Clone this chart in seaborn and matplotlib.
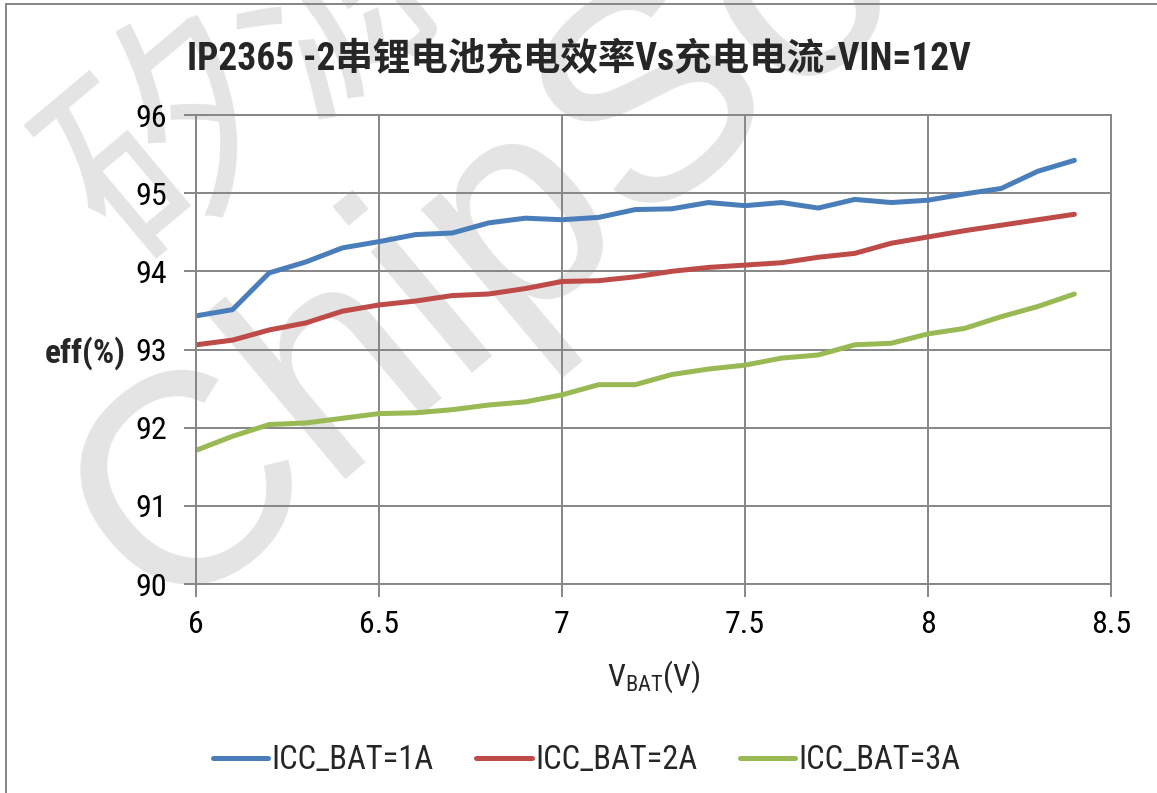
import matplotlib
matplotlib.use('Agg')
import matplotlib.pyplot as plt
import pandas as pd
import seaborn as sns
from matplotlib import font_manager
from matplotlib.patches import Rectangle

# Data
vbat = [6.0, 6.1, 6.2, 6.3, 6.4, 6.5, 6.6, 6.7, 6.8, 6.9, 7.0, 7.1, 7.2,
        7.3, 7.4, 7.5, 7.6, 7.7, 7.8, 7.9, 8.0, 8.1, 8.2, 8.3, 8.4]
eff_1a = [93.43, 93.51, 93.98, 94.12, 94.30, 94.38, 94.47, 94.49, 94.62,
          94.68, 94.66, 94.69, 94.79, 94.80, 94.88, 94.84, 94.88, 94.81,
          94.92, 94.88, 94.91, 94.99, 95.06, 95.28, 95.42]
eff_2a = [93.06, 93.12, 93.25, 93.34, 93.49, 93.57, 93.62, 93.69, 93.71,
          93.78, 93.87, 93.88, 93.93, 94.00, 94.05, 94.08, 94.11, 94.18,
          94.23, 94.36, 94.44, 94.52, 94.59, 94.66, 94.73]
eff_3a = [91.71, 91.89, 92.04, 92.06, 92.12, 92.18, 92.19, 92.23, 92.29,
          92.33, 92.42, 92.55, 92.55, 92.68, 92.75, 92.80, 92.89, 92.93,
          93.06, 93.08, 93.20, 93.27, 93.42, 93.55, 93.71]
series_names = ['ICC_BAT=1A', 'ICC_BAT=2A', 'ICC_BAT=3A']
colors = ['#4A7EBB', '#BE4B48', '#98B954']
x_ticks = [6, 6.5, 7, 7.5, 8, 8.5]
x_tick_labels = ['6', '6.5', '7', '7.5', '8', '8.5']
y_ticks = [90, 91, 92, 93, 94, 95, 96]

df = pd.DataFrame({'vbat': vbat * 3,
                   'eff': eff_1a + eff_2a + eff_3a,
                   'series': [s for s in series_names for _ in vbat]})

# pick a narrow sans if one is installed (reference uses Arial Narrow)
installed = {f.name for f in font_manager.fontManager.ttflist}
narrow = 'Liberation Sans'
for name in ['Liberation Sans Narrow', 'Roboto Condensed', 'DejaVu Sans Condensed',
             'Open Sans Condensed', 'Noto Sans Condensed']:
    if name in installed:
        narrow = name
        break

sns.set_style('white')
plt.rcParams['font.family'] = [narrow, 'Noto Sans CJK SC', 'DejaVu Sans']
plt.rcParams['mathtext.fontset'] = 'custom'
plt.rcParams['mathtext.rm'] = narrow

fig = plt.figure(figsize=(11.57, 7.93), dpi=100)
ax = fig.add_axes([196 / 1157, 1 - 584 / 793, 915 / 1157, 469 / 793])
ax.set_facecolor('none')

# watermark behind everything
wm = dict(color='#e4e4e4', zorder=-5, ha='left', va='baseline',
          rotation=40, rotation_mode='anchor')
fig.text(0.111, 0.665, '矽源特', fontsize=165,
         family=['Noto Sans CJK SC', 'DejaVu Sans'], **wm)
fig.text(0.140, 0.218, 'ChipSourceTek', fontsize=215,
         family=['Liberation Sans', 'DejaVu Sans'], **wm)

sns.lineplot(data=df, x='vbat', y='eff', hue='series', palette=colors,
             linewidth=3.6, ax=ax, legend=False)

ax.set_xlim(6, 8.5)
ax.set_ylim(90, 96)
ax.set_xticks(x_ticks)
ax.set_xticklabels(x_tick_labels)
ax.set_yticks(y_ticks)
ax.grid(True, color='#868686', linewidth=1.4)
for sp in ax.spines.values():
    sp.set_color('#868686')
    sp.set_linewidth(1.4)
ax.tick_params(axis='both', direction='out', length=9, width=1.4,
               color='#868686', labelsize=23, labelcolor='black')
ax.tick_params(axis='y', pad=12, left=True)
ax.tick_params(axis='x', pad=10, bottom=True)

ax.set_xlabel(r'$\mathregular{V_{BAT}}$(V)', fontsize=23, labelpad=14)
ax.set_ylabel('')
fig.text(85 / 1157, 1 - 353 / 793, 'eff(%)', fontsize=24, fontweight='bold',
         ha='center', va='center')

fig.text(0.5, 1 - 60 / 793, 'IP2365 -2串锂电池充电效率Vs充电电流-VIN=12V',
         fontsize=27, fontweight='heavy', ha='center', va='center')

handles = [plt.Line2D([], [], color=c, linewidth=3.6) for c in colors]
fig.legend(handles, series_names, loc='center', ncol=3, frameon=False,
           bbox_to_anchor=(0.507, 1 - 760 / 793), fontsize=23.5,
           handlelength=1.7, handletextpad=0.1, columnspacing=1.3)

# outer chart border
fig.patches.append(Rectangle((6 / 1157, -0.05), 1.1, 1 - 4 / 793 + 0.05,
                             transform=fig.transFigure, fill=False,
                             edgecolor='#868686', linewidth=1.4, zorder=-1))

fig.savefig('out.png', dpi=100)
